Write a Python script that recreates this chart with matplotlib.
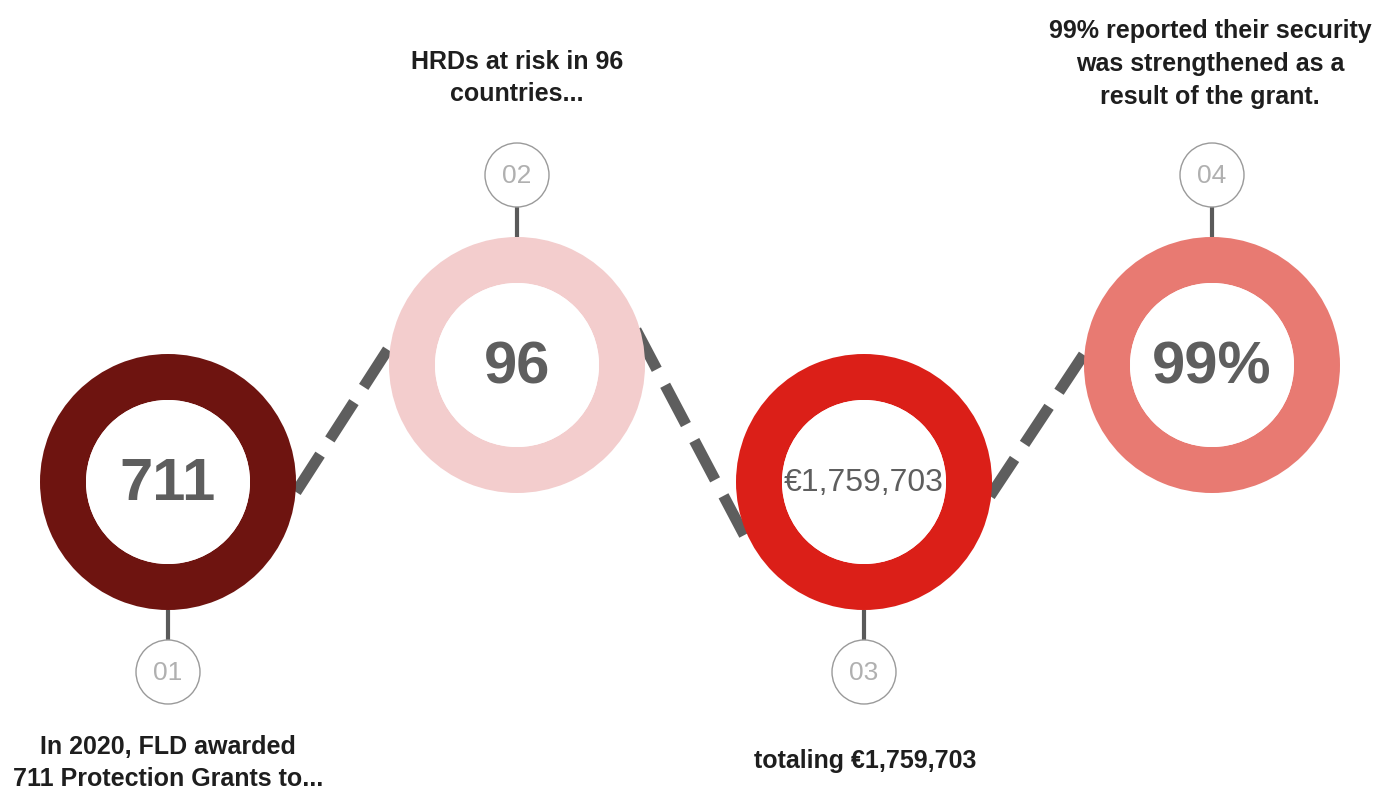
import matplotlib
matplotlib.use("Agg")
import matplotlib.pyplot as plt
from matplotlib.patches import Wedge, Circle

# values shown in the chart
steps = ["01", "02", "03", "04"]
big_values = ["711", "96", "€1,759,703", "99%"]
captions = [
    "In 2020, FLD awarded\n711 Protection Grants to...",
    "HRDs at risk in 96\ncountries...",
    "totaling €1,759,703",
    "99% reported their security\nwas strengthened as a\nresult of the grant.",
]
ring_colors = ["#6e1410", "#f3cdcd", "#db1f18", "#e87a72"]

# layout (pixels, y downwards)
centers = [(168, 482), (517, 365), (864, 482), (1212, 365)]
R_OUT, R_IN = 128, 82
step_offset = 190          # distance from ring centre to step circle
step_r = 32

plt.rcParams['font.family'] = ['Liberation Sans', 'DejaVu Sans']
plt.rcParams['lines.scale_dashes'] = False

fig = plt.figure(figsize=(13.94, 7.91), dpi=100)
ax = fig.add_axes([0, 0, 1, 1])
ax.set_xlim(0, 1394)
ax.set_ylim(791, 0)
ax.set_aspect("equal")
ax.axis("off")

# dashed connectors, drawn behind the rings
links = [((296, 492), (392, 343)), ((636, 330), (750, 546)), ((990, 496), (1088, 348))]
for (x0, y0), (x1, y1) in links:
    ax.plot([x0, x1], [y0, y1], color="#5e5e5e", lw=8, dashes=(32, 13),
            solid_capstyle="butt", dash_capstyle="butt", zorder=1)

for i, (cx, cy) in enumerate(centers):
    ax.add_patch(Wedge((cx, cy), R_OUT, 0, 360, width=R_OUT - R_IN,
                       facecolor=ring_colors[i], edgecolor="none", zorder=2))
    ax.add_patch(Circle((cx, cy), R_IN, facecolor="white", edgecolor="none", zorder=2))

    if i == 2:
        ax.text(cx, cy + 1, big_values[i], ha="center", va="center",
                fontsize=23, color="#5e5e5e", zorder=3)
    else:
        ax.text(cx, cy + 3, big_values[i], ha="center", va="center",
                fontsize=43, fontweight="bold", color="#5e5e5e", zorder=3)

    # even steps sit above, odd steps below
    up = i % 2 == 1
    sy = cy - step_offset if up else cy + step_offset
    edge_y = cy - R_OUT if up else cy + R_OUT
    stem_end = sy + step_r if up else sy - step_r
    ax.plot([cx, cx], [edge_y, stem_end], color="#5a5a5a", lw=3, zorder=1,
            solid_capstyle="butt")
    ax.add_patch(Circle((cx, sy), step_r, facecolor="white", edgecolor="#9a9a9a",
                        lw=1, zorder=3))
    ax.text(cx, sy + 1, steps[i], ha="center", va="center", fontsize=19,
            color="#b0b0b0", zorder=4)

# captions
cap_style = dict(ha="center", va="center", fontsize=18, fontweight="bold",
                 color="#1e1e1e", linespacing=1.47)
ax.text(168, 763, captions[0], **cap_style)
ax.text(517, 78, captions[1], **cap_style)
ax.text(865, 761, captions[2], **cap_style)
ax.text(1210, 64, captions[3], **cap_style)

fig.savefig("out.png", dpi=100, facecolor="white")
